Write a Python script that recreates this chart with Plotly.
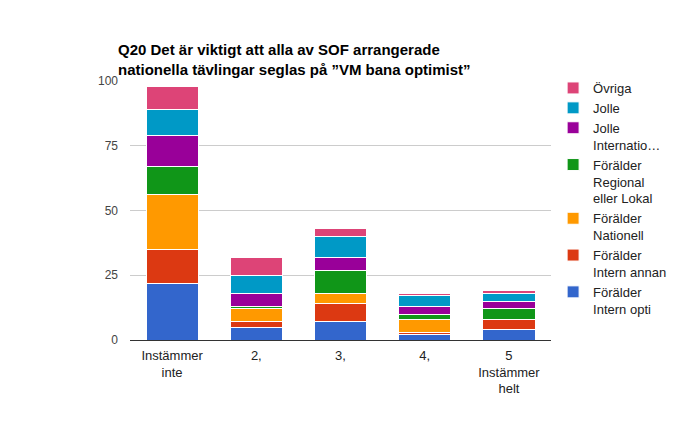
import plotly.graph_objects as go

categories = ["Instämmer<br>inte", "2,", "3,", "4,", "5<br>Instämmer<br>helt"]
series_names = [
    "Förälder<br>Intern opti",
    "Förälder<br>Intern annan",
    "Förälder<br>Nationell",
    "Förälder<br>Regional<br>eller Lokal",
    "Jolle<br>Internatio…",
    "Jolle",
    "Övriga",
]
foralder_intern_opti = [22, 5, 7, 2, 4]
foralder_intern_annan = [13, 2, 7, 1, 4]
foralder_nationell = [21, 5, 4, 5, 0]
foralder_regional = [11, 1, 9, 2, 4]
jolle_internatio = [12, 5, 5, 3, 3]
jolle = [10, 7, 8, 4, 3]
ovriga = [9, 7, 3, 1, 1]
series_values = [foralder_intern_opti, foralder_intern_annan, foralder_nationell,
                 foralder_regional, jolle_internatio, jolle, ovriga]
colors = ["#3366cc", "#dc3912", "#ff9900", "#109618", "#990099", "#0099c6", "#dd4477"]
y_ticks = [0, 25, 50, 75, 100]

fig = go.Figure()
for name, vals, col in zip(series_names, series_values, colors):
    fig.add_trace(go.Bar(
        x=categories, y=vals, name=name,
        marker=dict(color=col, line=dict(color="white", width=1)),
    ))

fig.update_layout(
    barmode="stack",
    bargap=0.38,
    width=681, height=421,
    margin=dict(l=122, r=138, t=73, b=89),
    plot_bgcolor="white", paper_bgcolor="white",
    font=dict(family="Liberation Sans, Arial, sans-serif", size=12, color="#222"),
    title=dict(
        text="<b>Q20 Det är viktigt att alla av SOF arrangerade<br>nationella tävlingar seglas på ”VM bana optimist”</b>",
        x=110 / 681, xanchor="left", y=1 - 47 / 421, yanchor="top",
        font=dict(size=15, color="#000"),
    ),
    xaxis=dict(
        showline=True, linecolor="#333", linewidth=1,
        tickfont=dict(size=13, color="#222"),
        ticks="", fixedrange=True, ticklabelstandoff=3,
    ),
    yaxis=dict(
        range=[0, 100], tickvals=y_ticks,
        gridcolor="#cccccc", gridwidth=1,
        zeroline=False, showline=False,
        tickfont=dict(size=12, color="#444"),
        ticklabelstandoff=11,
    ),
    legend=dict(
        x=1.005, xanchor="left", y=1.0 + 8 / 259, yanchor="top",
        traceorder="reversed", valign="top",
        font=dict(size=13, color="#222"),
        tracegroupgap=0, itemclick=False,
        maxheight=400,
    ),
)

fig.write_html("out.html")
